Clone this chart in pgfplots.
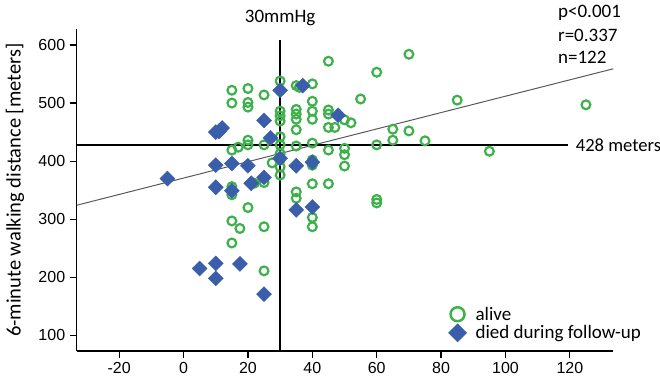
\documentclass[border=0pt]{standalone}
\usepackage{pgfplots}
\pgfplotsset{compat=1.18}
\usepackage{fontspec}
\setmainfont{Carlito}
\newfontfamily\arial{Liberation Sans}
\definecolor{alivegreen}{RGB}{62,178,74}
\definecolor{diedblue}{RGB}{58,94,170}
\begin{document}
\begin{tikzpicture}[x=1bp,y=1bp]
\useasboundingbox (0,0) rectangle (660,384);
\begin{axis}[
  at={(76.7bp,33bp)}, anchor=south west,
  scale only axis, width=536.6bp, height=321.7bp,
  xmin=-33.2, xmax=133.5, ymin=73, ymax=627,
  axis x line=bottom, axis y line=left,
  axis line style={-, line width=1.5bp, black},
  xtick={-20,0,20,40,60,80,100,120},
  ytick={100,200,300,400,500,600},
  tick align=outside, major tick length=7bp,
  tick style={line width=1.2bp, black},
  /pgf/number format/assume math mode=true,
  ticklabel style={font=\arial\fontsize{16bp}{18bp}\selectfont},
  xticklabel style={yshift=-1bp},
  yticklabel style={xshift=-1bp},
  ylabel={6-minute walking distance [meters]},
  ylabel style={at={(axis description cs:-0.115,0.5)}, anchor=center, font=\fontsize{20.5bp}{22bp}\selectfont, inner sep=0pt},
  clip=false,
  legend style={draw=none, fill=none, at={(axis description cs:0.6925,0.144)}, anchor=north west,
    font=\fontsize{19bp}{21bp}\selectfont, row sep=0bp, column sep=7bp, inner sep=0pt},
  legend cell align=left,
]
\addlegendimage{only marks, mark=o, mark size=7bp, alivegreen, line width=2.5bp}
\addlegendentry{alive}
\addlegendimage{only marks, mark=square*, mark size=6.4bp, mark options={rotate=45}, diedblue}
\addlegendentry{died during follow-up}

\addplot[only marks, mark=o, mark size=4.4bp, alivegreen, line width=2.2bp, forget plot] coordinates {
(45,572) (70,584) (60,553) (30,538) (35,530) (36,527) (40,533) (15,522)
(20,525) (25,514) (55,507) (85,505) (125,497) (15,500) (20,501) (20,493)
(40,503) (30,486) (30,478) (30,469) (35,489) (35,481) (35,472) (40,486)
(40,472) (45,488) (45,481) (50,471) (52,466) (35,454) (45,458) (47,458)
(65,455) (70,452) (30,442) (30,428) (25,428) (35,426) (40,431) (45,419)
(50,422) (50,411) (65,436) (75,435) (60,428) (95,417) (20,436) (20,428)
(15,419) (17,424) (27.5,397) (40,402) (40,393) (50,391.5) (30,390) (30,376)
(25,363) (22,362) (40,361) (45,361) (35,347) (35,336) (60,334) (60,328)
(40,303) (40,287) (25,287) (20,320) (15,297) (17.5,284) (15,259) (25,211)
(15,356) (15,342) (30,413) (30,402)
};
\addplot[only marks, mark=square*, mark size=5.3bp, mark options={rotate=45}, diedblue, forget plot] coordinates {
(-5,370) (5,215) (10,224) (10,198) (17.5,223) (25,171) (10,355) (15,349)
(10,393) (15,396) (20,392) (21,362) (25,372) (10,450) (12,457) (11,451)
(25,470) (27,440) (30,522) (37,530) (30,405) (35,392) (40,398) (35,316)
(40,321) (48,479)
};

\addplot[black, line width=1.5bp, forget plot] coordinates {(30,73) (30,609)};
\addplot[black, line width=1.5bp, forget plot] coordinates {(-33.2,428) (119.5,428)};
\addplot[black!65, line width=1bp, forget plot] coordinates {(-33.2,324) (133.5,559)};

\node[anchor=center, inner sep=0pt, font=\fontsize{19bp}{21bp}\selectfont] at (axis cs:30,646) {30mmHg};
\node[anchor=west, inner sep=0pt, font=\fontsize{18.6bp}{20bp}\selectfont] at (axis cs:121.8,428) {428 meters};
\node[anchor=west, inner sep=0pt, font=\fontsize{19bp}{21bp}\selectfont] at (axis cs:116.3,655) {p<0.001};
\node[anchor=west, inner sep=0pt, font=\fontsize{19bp}{21bp}\selectfont] at (axis cs:116.3,617) {r=0.337};
\node[anchor=west, inner sep=0pt, font=\fontsize{19bp}{21bp}\selectfont] at (axis cs:116.3,579) {n=122};
\end{axis}
\end{tikzpicture}
\end{document}
